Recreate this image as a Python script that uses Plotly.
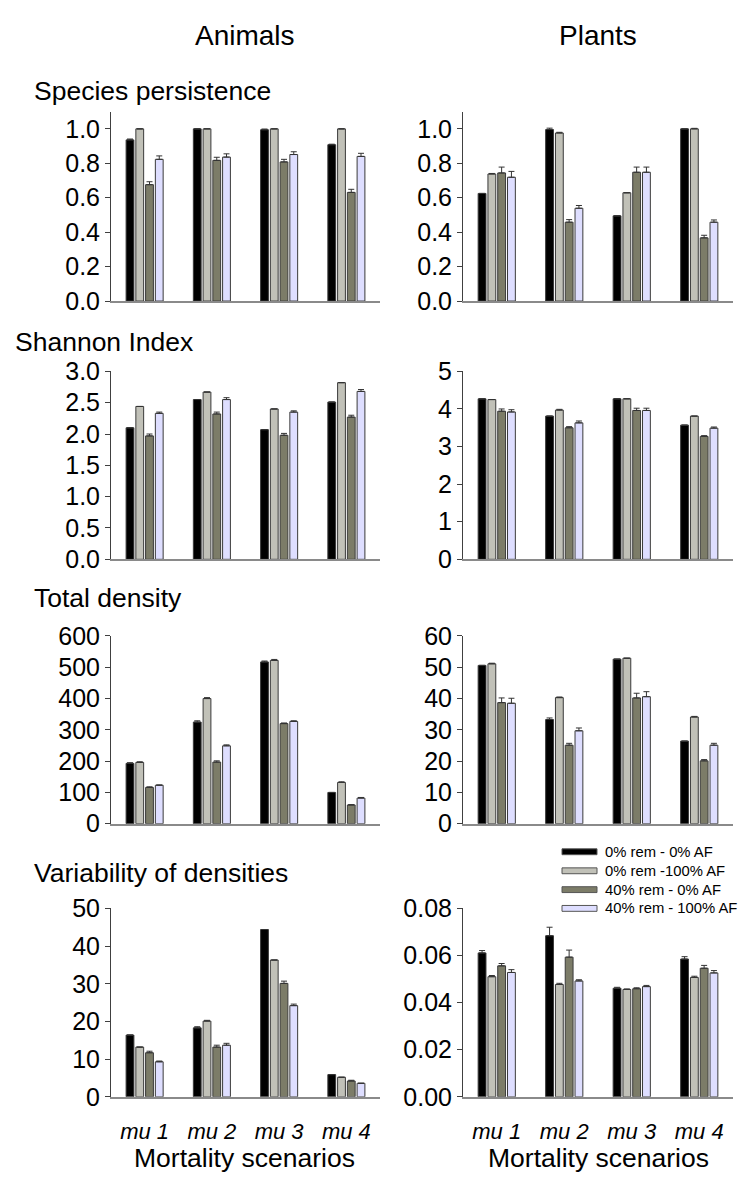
import plotly.graph_objects as go

# ---- data -------------------------------------------------------------
categories = ["mu 1", "mu 2", "mu 3", "mu 4"]
series_names = ["0% rem - 0% AF", "0% rem -100% AF", "40% rem - 0% AF", "40% rem - 100% AF"]
series_colors = ["#000000", "#c1c1b8", "#7c7c68", "#dedeff"]

# each list: one row per series (in series_names order), one value per scenario
animals_persistence = [[0.936, 1.0, 0.995, 0.908],
                       [1.0, 1.0, 1.0, 1.0],
                       [0.676, 0.817, 0.808, 0.631],
                       [0.823, 0.836, 0.851, 0.840]]
animals_persistence_err = [[0.005, 0.0, 0.004, 0.003],
                           [0.0, 0.0, 0.0, 0.0],
                           [0.017, 0.018, 0.015, 0.018],
                           [0.020, 0.019, 0.016, 0.018]]

plants_persistence = [[0.625, 0.996, 0.495, 1.0],
                      [0.738, 0.976, 0.629, 1.0],
                      [0.744, 0.458, 0.748, 0.367],
                      [0.719, 0.539, 0.748, 0.458]]
plants_persistence_err = [[0.0, 0.008, 0.0, 0.0],
                          [0.003, 0.004, 0.0, 0.003],
                          [0.034, 0.015, 0.030, 0.015],
                          [0.034, 0.016, 0.030, 0.013]]

animals_shannon = [[2.10, 2.55, 2.07, 2.51],
                   [2.44, 2.67, 2.40, 2.82],
                   [1.97, 2.32, 1.98, 2.27],
                   [2.33, 2.55, 2.35, 2.68]]
animals_shannon_err = [[0.0, 0.0, 0.0, 0.0],
                       [0.0, 0.0, 0.0, 0.0],
                       [0.03, 0.03, 0.03, 0.03],
                       [0.02, 0.03, 0.02, 0.03]]

plants_shannon = [[4.27, 3.81, 4.27, 3.57],
                  [4.25, 3.97, 4.27, 3.81],
                  [3.94, 3.50, 3.96, 3.27],
                  [3.92, 3.63, 3.96, 3.49]]
plants_shannon_err = [[0.0, 0.0, 0.0, 0.0],
                      [0.0, 0.02, 0.0, 0.0],
                      [0.06, 0.03, 0.06, 0.02],
                      [0.06, 0.05, 0.06, 0.03]]

animals_density = [[193, 325, 517, 100],
                   [196, 400, 522, 132],
                   [116, 197, 320, 60],
                   [123, 249, 327, 82]]
animals_density_err = [[2, 4, 3, 0],
                       [2, 3, 3, 2],
                       [2, 4, 2, 1],
                       [1, 3, 2, 2]]

plants_density = [[50.6, 33.3, 52.6, 26.4],
                  [51.1, 40.3, 52.9, 34.1],
                  [38.7, 25.1, 40.2, 20.1],
                  [38.5, 29.7, 40.6, 25.1]]
plants_density_err = [[0.0, 0.5, 0.0, 0.0],
                      [0.2, 0.2, 0.0, 0.2],
                      [1.5, 0.6, 1.5, 0.4],
                      [1.6, 0.9, 1.6, 0.6]]

animals_variability = [[16.4, 18.3, 44.4, 5.9],
                       [13.2, 20.1, 36.3, 5.2],
                       [11.7, 13.2, 30.1, 4.2],
                       [9.3, 13.7, 24.2, 3.6]]
animals_variability_err = [[0.0, 0.3, 0.0, 0.0],
                           [0.0, 0.2, 0.0, 0.0],
                           [0.4, 0.5, 0.6, 0.2],
                           [0.2, 0.5, 0.4, 0.0]]

plants_variability = [[0.0611, 0.0684, 0.0461, 0.0585],
                      [0.0510, 0.0477, 0.0456, 0.0507],
                      [0.0556, 0.0593, 0.0459, 0.0546],
                      [0.0528, 0.0492, 0.0468, 0.0526]]
plants_variability_err = [[0.0010, 0.0036, 0.0004, 0.0010],
                          [0.0005, 0.0005, 0.0002, 0.0005],
                          [0.0010, 0.0030, 0.0004, 0.0012],
                          [0.0012, 0.0005, 0.0005, 0.0010]]

row_titles = ["Species persistence", "Shannon Index", "Total density", "Variability of densities"]
column_titles = ["Animals", "Plants"]
x_title = "Mortality scenarios"

# ---- layout geometry (pixels) ----------------------------------------
W, H = 738, 1187
col_px = [(111, 380), (463, 733)]
row_px = [(100, 294), (366, 558.5), (637, 829.3), (916, 1109)]
row_title_px = [(32, 79), (13, 336), (32, 598), (32, 880)]

panels = [
    # (row, col, values, errors, y range, dtick, tickformat)
    (0, 0, animals_persistence, animals_persistence_err, [0, 1.1], 0.2, ".1f"),
    (0, 1, plants_persistence, plants_persistence_err, [0, 1.1], 0.2, ".1f"),
    (1, 0, animals_shannon, animals_shannon_err, [0, 3], 0.5, ".1f"),
    (1, 1, plants_shannon, plants_shannon_err, [0, 5], 1, "d"),
    (2, 0, animals_density, animals_density_err, [0, 600], 100, "d"),
    (2, 1, plants_density, plants_density_err, [0, 60], 10, "d"),
    (3, 0, animals_variability, animals_variability_err, [0, 50], 10, "d"),
    (3, 1, plants_variability, plants_variability_err, [0, 0.08], 0.02, ".2f"),
]

FONT = "Arial, 'Liberation Sans', sans-serif"
fig = go.Figure()
layout = dict(
    width=W, height=H, autosize=False,
    margin=dict(l=0, r=0, t=0, b=0),
    paper_bgcolor="white", plot_bgcolor="white",
    showlegend=False, barmode="group", bargap=0.42, bargroupgap=0.2,
    font=dict(family=FONT, color="black"),
)

def px_x(x):
    return x / W

def px_y(y):
    return 1 - y / H

for i, (r, c, vals, errs, yr, dt, fmt) in enumerate(panels):
    n = "" if i == 0 else str(i + 1)
    xa, ya = "x" + n, "y" + n
    for s in range(4):
        fig.add_trace(go.Bar(
            x=categories, y=vals[s], name=series_names[s],
            xaxis=xa, yaxis=ya,
            marker=dict(color=series_colors[s], line=dict(color="#3a3a3a", width=1)),
            error_y=dict(type="data", array=errs[s], arrayminus=[0] * 4, symmetric=False,
                         color="#333333", thickness=1, width=3, visible=True),
            showlegend=False,
        ))
    x0, x1 = col_px[c]
    y0, y1 = row_px[r]
    layout["xaxis" + n] = dict(
        domain=[px_x(x0), px_x(x1)], anchor=ya, type="category",
        range=[-0.5, 3.5], showline=True, linecolor="#8a8a8a", linewidth=2,
        showgrid=False, zeroline=False, ticks="",
        showticklabels=(r == 3),
        tickfont=dict(family=FONT, size=22, style="italic", color="black"),
        ticklabelstandoff=14,
    )
    layout["yaxis" + n] = dict(
        domain=[px_y(y1), px_y(y0)], anchor=xa, range=yr,
        dtick=dt, tick0=0, tickformat=fmt,
        showline=True, linecolor="#404040", linewidth=1,
        ticks="outside", ticklen=5, tickcolor="#404040",
        showgrid=False, zeroline=False,
        tickfont=dict(family=FONT, size=25, color="black"),
    )

annotations = []
for t, cx in zip(column_titles, [245, 598]):
    annotations.append(dict(text=t, x=px_x(cx), y=px_y(22), xref="paper", yref="paper",
                            xanchor="center", yanchor="middle", showarrow=False,
                            font=dict(family=FONT, size=28, color="black")))
for t, (lx, cy) in zip(row_titles, row_title_px):
    annotations.append(dict(text=t, x=px_x(lx), y=px_y(cy), xref="paper", yref="paper",
                            xanchor="left", yanchor="middle", showarrow=False,
                            font=dict(family=FONT, size=26.5, color="black")))
for cx in [245, 598]:
    annotations.append(dict(text=x_title, x=px_x(cx), y=px_y(1172), xref="paper", yref="paper",
                            xanchor="center", yanchor="middle", showarrow=False,
                            font=dict(family=FONT, size=26.5, color="black")))

# legend drawn as swatches + labels
shapes = []
leg_rows = [858, 877.5, 896.8, 916]
for name, col, ly in zip(series_names, series_colors, leg_rows):
    shapes.append(dict(type="rect", xref="paper", yref="paper",
                       x0=px_x(562), x1=px_x(597), y0=px_y(ly + 3), y1=px_y(ly - 3),
                       fillcolor=col, line=dict(color="#555555", width=1)))
    annotations.append(dict(text=name, x=px_x(603), y=px_y(ly), xref="paper", yref="paper",
                            xanchor="left", yanchor="middle", showarrow=False,
                            font=dict(family=FONT, size=14.8, color="black")))

layout["annotations"] = annotations
layout["shapes"] = shapes
fig.update_layout(**layout)
fig.write_html("out.html")
